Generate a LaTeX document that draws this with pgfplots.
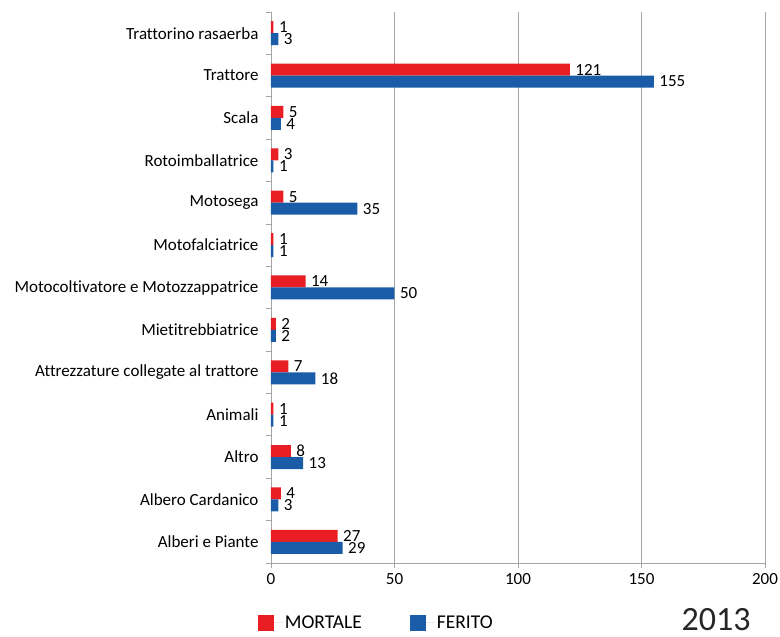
\documentclass[border=0pt]{standalone}
\usepackage{fontspec}
\setmainfont{Carlito}[Ligatures=NoCommon]
\usepackage{pgfplots}
\pgfplotsset{compat=1.18}
\definecolor{mred}{RGB}{232,30,36}
\definecolor{mblue}{RGB}{26,92,168}
\definecolor{gridc}{RGB}{165,165,165}
\begin{document}
\begin{tikzpicture}
\useasboundingbox (0,0) rectangle (780pt,637pt);
\begin{axis}[
  at={(271pt,74pt)}, anchor=south west,
  scale only axis, width=494pt, height=551pt,
  xbar, bar width=12pt,
  xmin=0, xmax=200, ymin=-0.5, ymax=12.5,
  xtick={0,50,100,150,200},
  ytick={0,...,12},
  yticklabels={Alberi e Piante, Albero Cardanico, Altro, Animali, Attrezzature collegate al trattore, Mietitrebbiatrice, Motocoltivatore e Motozzappatrice, Motofalciatrice, Motosega, Rotoimballatrice, Scala, Trattore\ , Trattorino rasaerba},
  minor ytick={-0.5,0.5,...,12.5},
  axis lines*=left,
  axis line style={gridc, line width=0.8pt},
  xmajorgrids, grid style={gridc, line width=0.8pt},
  tick align=outside,
  major tick length=5pt, minor tick length=5pt,
  major y tick style={draw=none},
  minor y tick style={gridc, line width=0.8pt},
  major x tick style={gridc, line width=0.8pt},
  /pgf/number format/assume math mode=true,
  yticklabel style={font=\fontsize{17}{17}\selectfont, xshift=-4pt},
  xticklabel style={font=\fontsize{17}{17}\selectfont, yshift=-2pt},
  legend style={at={(-0.033,-0.108)}, anchor=west, draw=none, fill=none,
    legend columns=2, font=\fontsize{19.5}{19.5}\selectfont,
    /tikz/every even column/.append style={column sep=46pt}},
  legend cell align=left,
  legend image code/.code={\fill[#1,draw=none] (0pt,-8pt) rectangle (16pt,8pt); \path (0pt,0pt) -- (25pt,0pt);},
  nodes near coords,
  every node near coord/.append style={font=\fontsize{17}{17}\selectfont, black, anchor=west, xshift=2pt},
]
\addplot[fill=mred, draw=none, bar shift=6pt] coordinates {(27,0) (4,1) (8,2) (1,3) (7,4) (2,5) (14,6) (1,7) (5,8) (3,9) (5,10) (121,11) (1,12)};
\addplot[fill=mblue, draw=none, bar shift=-6pt] coordinates {(29,0) (3,1) (13,2) (1,3) (18,4) (2,5) (50,6) (1,7) (35,8) (1,9) (4,10) (155,11) (3,12)};
\legend{MORTALE, FERITO}
\end{axis}
\node[anchor=base, inner sep=0pt, font=\fontsize{34}{34}\selectfont, text=black!85] at (716pt,6pt) {2013};
\end{tikzpicture}
\end{document}
